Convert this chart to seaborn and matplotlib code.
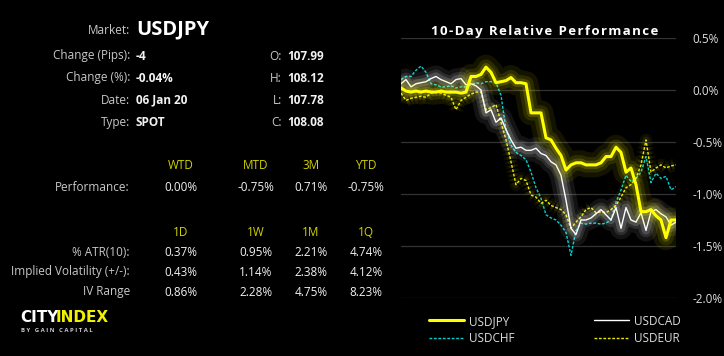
import numpy as np
import pandas as pd
import matplotlib
matplotlib.use("Agg")
import matplotlib.pyplot as plt
import matplotlib.patheffects as pe
from matplotlib.lines import Line2D
import seaborn as sns

# 10-day relative performance (%), sampled evenly across the 10 days
usdjpy = [0.02, -0.01, -0.02, -0.01, -0.02, -0.01, -0.02, -0.02, -0.01, -0.02, -0.02, -0.02, -0.03, -0.02,
          0.13, 0.13, 0.15, 0.22, 0.17, 0.07, 0.08, 0.09, 0.12, 0.07, 0.07, 0.06, -0.22, -0.22, -0.22,
          -0.46, -0.48, -0.56, -0.63, -0.77, -0.72, -0.70, -0.70, -0.72, -0.72, -0.72, -0.70, -0.64, -0.64,
          -0.55, -0.60, -0.79, -0.75, -0.91, -1.17, -1.17, -1.15, -1.21, -1.25, -1.42, -1.25, -1.25]
usdcad = [0.06, 0.10, 0.03, 0.06, 0.07, 0.08, 0.11, 0.13, 0.10, 0.08, 0.06, 0.10, 0.11, 0.05, 0.06, 0.04,
          0.00, -0.22, -0.19, -0.31, -0.27, -0.38, -0.48, -0.56, -0.55, -0.58, -0.58, -0.56, -0.61, -0.63,
          -0.69, -0.72, -0.82, -1.06, -1.33, -1.39, -1.25, -1.25, -1.23, -1.19, -1.15, -1.20, -1.25, -1.13,
          -1.33, -1.13, -1.25, -1.27, -1.18, -1.35, -1.17, -1.15, -1.19, -1.22, -1.30, -1.27]
usdchf = [0.10, 0.13, 0.13, 0.19, 0.23, 0.17, 0.06, 0.05, 0.03, 0.03, 0.04, 0.02, 0.03, 0.03, 0.05, 0.07,
          0.06, 0.08, 0.08, 0.07, -0.05, -0.38, -0.53, -0.60, -0.63, -0.67, -0.79, -0.94, -1.04, -1.20,
          -1.23, -1.25, -1.30, -1.37, -1.59, -1.35, -1.28, -1.29, -1.28, -1.28, -1.29, -1.28, -1.25, -1.08,
          -0.96, -0.82, -0.88, -0.85, -0.79, -0.64, -0.89, -0.80, -0.85, -0.83, -0.96, -0.93]
usdeur = [-0.03, -0.10, -0.08, -0.07, -0.06, -0.07, -0.03, -0.02, -0.03, -0.05, -0.07, -0.19, -0.10, -0.07,
          -0.04, -0.02, -0.02, -0.19, -0.17, -0.14, -0.31, -0.48, -0.69, -0.91, -0.85, -0.87, -1.01, -1.03,
          -1.09, -1.06, -1.11, -1.13, -1.15, -1.20, -1.33, -1.27, -1.22, -1.15, -1.13, -1.18, -1.17, -1.18,
          -1.15, -1.11, -1.03, -0.94, -0.91, -0.85, -0.72, -0.48, -0.79, -0.75, -0.72, -0.75, -0.73, -0.72]

y_ticks = [0.5, 0.0, -0.5, -1.0, -1.5, -2.0]

snapshot_labels = ["Change (Pips):", "Change (%):", "Date:", "Type:"]
snapshot_values = ["-4", "-0.04%", "06 Jan 20", "SPOT"]
ohlc_labels = ["O:", "H:", "L:", "C:"]
ohlc_values = ["107.99", "108.12", "107.78", "108.08"]

perf_cols = ["WTD", "MTD", "3M", "YTD"]
perf_values = ["0.00%", "-0.75%", "0.71%", "-0.75%"]
vol_cols = ["1D", "1W", "1M", "1Q"]
vol_rows = ["% ATR(10):", "Implied Volatility (+/-):", "IV Range"]
vol_values = [["0.37%", "0.95%", "2.21%", "4.74%"],
              ["0.43%", "1.14%", "2.38%", "4.12%"],
              ["0.86%", "2.28%", "4.75%", "8.23%"]]

sns.set_style("dark")
plt.rcParams["font.family"] = ["Open Sans", "DejaVu Sans"]

W, H = 724, 356
fig = plt.figure(figsize=(W / 100, H / 100), dpi=100)
fig.patch.set_facecolor("black")

def fx(px):
    return px / W

def fy(py):
    return 1 - py / H

grey = "#c8c8c8"
white = "#f2f2f2"
hdr = "#d2d200"

# ---- left info panel
fig.text(fx(130), fy(31), "Market:", color=grey, fontsize=8.5, ha="right", va="center")
fig.text(fx(136), fy(29), "USDJPY", color="white", fontsize=14.5, fontweight="bold", ha="left", va="center")
for i, (lab, val) in enumerate(zip(snapshot_labels, snapshot_values)):
    y = 56 + i * 22
    fig.text(fx(130), fy(y), lab, color=grey, fontsize=8.5, ha="right", va="center")
    fig.text(fx(136), fy(y), val, color=white, fontsize=8.5, fontweight="bold", ha="left", va="center")
for i, (lab, val) in enumerate(zip(ohlc_labels, ohlc_values)):
    y = 56 + i * 22
    fig.text(fx(282), fy(y), lab, color=grey, fontsize=8.5, ha="right", va="center")
    fig.text(fx(287), fy(y), val, color=white, fontsize=8.5, fontweight="bold", ha="left", va="center")

col_x = [181, 256, 311, 366]
for cx, c, v in zip(col_x, perf_cols, perf_values):
    fig.text(fx(cx), fy(166), c, color=hdr, fontsize=8.5, ha="center", va="center")
    fig.text(fx(cx), fy(188), v, color=white, fontsize=8.5, ha="center", va="center")
fig.text(fx(130), fy(188), "Performance:", color=grey, fontsize=8.5, ha="right", va="center")

for cx, c in zip(col_x, vol_cols):
    fig.text(fx(cx), fy(232), c, color=hdr, fontsize=8.5, ha="center", va="center")
for r, (lab, vals) in enumerate(zip(vol_rows, vol_values)):
    y = 252 + r * 20
    fig.text(fx(130), fy(y), lab, color=grey, fontsize=8.5, ha="right", va="center")
    for cx, v in zip(col_x, vals):
        fig.text(fx(cx), fy(y), v, color=white, fontsize=8.5, ha="center", va="center")

# logo
fig.text(fx(20), fy(317), "CITY", color="white", fontsize=11, fontweight="bold",
         family="DejaVu Sans", ha="left", va="center")
fig.text(fx(56), fy(317), "INDEX", color="#f0f000", fontsize=11, fontweight="bold",
         family="DejaVu Sans", ha="left", va="center")
fig.text(fx(21), fy(330), " ".join("BY GAIN CAPITAL"), color="#cccccc", fontsize=4.3,
         fontweight="bold", ha="left", va="center")

# ---- chart
ax = fig.add_axes([fx(401), fy(298), fx(676) - fx(401), (298 - 38) / H])
ax.set_facecolor("black")
n = len(usdjpy)
df = pd.DataFrame({"t": np.arange(n), "USDJPY": usdjpy, "USDCAD": usdcad,
                   "USDCHF": usdchf, "USDEUR": usdeur})

def glow(color, widths=(16, 10, 6), alpha=(0.08, 0.11, 0.16)):
    return [pe.Stroke(linewidth=w, foreground=color, alpha=a) for w, a in zip(widths, alpha)] + [pe.Normal()]

sns.lineplot(data=df, x="t", y="USDCHF", ax=ax, color="#00d0d0", lw=1.0, ls=(0, (2, 1.2)), label="USDCHF")
sns.lineplot(data=df, x="t", y="USDEUR", ax=ax, color="#e8e800", lw=1.0, ls=(0, (2, 1.2)), label="USDEUR")
sns.lineplot(data=df, x="t", y="USDCAD", ax=ax, color="white", lw=1.0, label="USDCAD")
sns.lineplot(data=df, x="t", y="USDJPY", ax=ax, color="#ffff00", lw=2.2, label="USDJPY")

handles, labels = ax.get_legend_handles_labels()
ax.get_legend().remove()

# legend proxies without glow
proxies = {}
for h, lab in zip(handles, labels):
    p = Line2D([], [])
    p.update_from(h)
    p.set_path_effects([])
    proxies[lab] = p

# soft glow around the lines, as on the original
glow_spec = {"USDJPY": ((18, 11, 6), (0.08, 0.11, 0.16)),
             "USDCAD": ((16, 10, 6), (0.08, 0.11, 0.16)),
             "USDEUR": ((9, 5), (0.06, 0.09))}
for line in ax.get_lines():
    lab = line.get_label()
    if lab in glow_spec:
        w, a = glow_spec[lab]
        line.set_path_effects(glow(line.get_color(), w, a))

ax.set_xlim(0, n - 1)
ax.set_ylim(-2.0, 0.5)
ax.set_yticks(y_ticks)
ax.set_yticklabels([f"{v:.1f}%" for v in y_ticks])
ax.set_xticks([])
ax.set_xlabel("")
ax.set_ylabel("")
ax.yaxis.tick_right()
ax.tick_params(axis="y", colors="#dddddd", labelsize=8.5, length=0, pad=12)
for lbl in ax.get_yticklabels():
    lbl.set_horizontalalignment("left")
ax.grid(axis="y", color="#333333", lw=0.9)
ax.grid(axis="x", visible=False)
for s in ax.spines.values():
    s.set_visible(False)

fig.text(fx(545), fy(31), "\u200a".join("10-Day Relative Performance"), color="white",
         fontsize=9.5, fontweight="bold", ha="center", va="center")

order = ["USDJPY", "USDCHF", "USDCAD", "USDEUR"]
leg = fig.legend([proxies[k] for k in order], order, ncol=2,
                 loc="upper left", bbox_to_anchor=(fx(418), fy(304)), frameon=False,
                 fontsize=8.5, labelcolor="#dddddd", handlelength=3.0, handletextpad=0.4,
                 columnspacing=6.75, labelspacing=0.35)

fig.savefig("out.png", dpi=100, facecolor="black")
